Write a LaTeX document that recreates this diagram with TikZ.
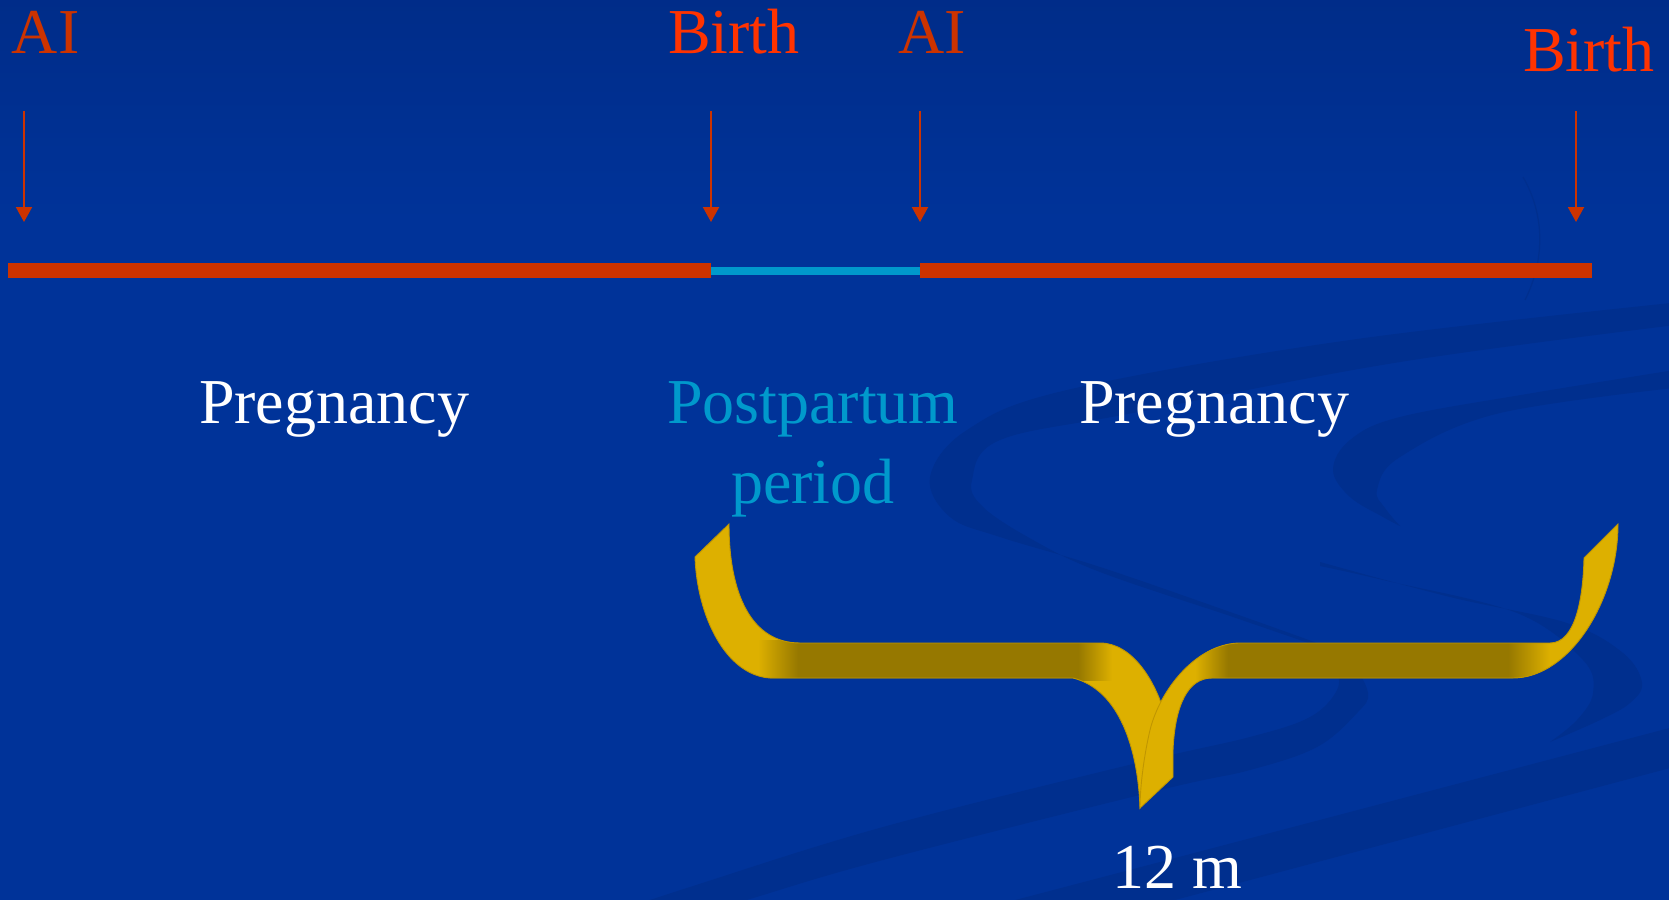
\documentclass[tikz,border=0pt]{standalone}
\usepackage{fontspec}
\setmainfont{Liberation Serif}
\usetikzlibrary{arrows.meta}
\definecolor{bgblue}{HTML}{003399}
\definecolor{bgtop}{HTML}{002C88}
\definecolor{swirl}{HTML}{002F8E}
\definecolor{tlred}{HTML}{CC3300}
\definecolor{birthred}{HTML}{FF3300}
\definecolor{ppcyan}{HTML}{0099CC}
\definecolor{gold}{HTML}{DDB000}
\definecolor{darkgold}{HTML}{967800}
\definecolor{goldedge}{HTML}{C09600}
\tikzset{
  lbl/.style={anchor=base west, inner sep=0pt, outer sep=0pt, font=\fontsize{64}{77}\selectfont},
  marker/.style={draw=tlred, line width=2pt, -{Triangle[length=15pt,width=16pt]}},
  swirlfill/.style={fill=swirl},
  braceedge/.style={draw=goldedge, line width=0.9pt}
}
\def\LBpath{(729,524) .. controls (729,595) and (752,643) .. (800,643) -- (1100,643) .. controls (1132,643) and (1155,680) .. (1165,715) -- (1150,790) -- (1140,808) .. controls (1138,750) and (1120,690) .. (1073,678) -- (770,678) .. controls (725,675) and (697,615) .. (695,557) -- cycle}
\def\RBpath{(1140,808) -- (1173,777) -- (1173,750) .. controls (1175,705) and (1188,678) .. (1212,678) -- (1513,678) .. controls (1570,678) and (1618,600) .. (1618,524) -- (1584,558) .. controls (1583,600) and (1575,643) .. (1550,643) -- (1238,643) .. controls (1195,645) and (1160,690) .. (1150,730) .. controls (1143,760) and (1140,790) .. (1140,808) -- cycle}
\begin{document}
\begin{tikzpicture}[x=1pt,y=-1pt]
\useasboundingbox (0,0) rectangle (1669,899);
% background
\fill[bgblue] (-10,-10) rectangle (1680,910);
\shade[top color=bgtop, bottom color=bgblue] (-10,-10) rectangle (1680,220);
% background swirls
\begin{scope}
\clip (-10,-10) rectangle (1680,910);
\fill[swirlfill] plot[smooth, tension=0.6] coordinates {(1700,300) (1350,340) (1067,390) (967,430) (930,477) (950,517) (1000,537) (1100,567) (1233,613) (1317,643)}
  -- plot[smooth, tension=0.6] coordinates {(1317,646) (1233,617) (1100,572) (1033,540) (983,507) (972,480) (1000,440) (1133,413) (1400,362) (1700,322)} -- cycle;
\fill[swirlfill] plot[smooth, tension=0.6] coordinates {(1317,643) (1350,662) (1368,693) (1357,713) (1317,747) (1250,770) (1160,790) (883,860) (750,899) (650,930)}
  -- plot[smooth, tension=0.6] coordinates {(560,930) (690,887) (883,827) (1137,763) (1250,737) (1310,717) (1337,690) (1335,668) (1317,650)} -- cycle;
\fill[swirlfill] plot[smooth, tension=0.6] coordinates {(1700,366) (1533,393) (1400,417) (1350,440) (1333,470) (1350,497) (1383,517) (1400,526)}
  -- plot[smooth, tension=0.6] coordinates {(1400,526) (1385,508) (1377,490) (1400,457) (1500,413) (1700,385)} -- cycle;
\fill[swirlfill] plot[smooth, tension=0.6] coordinates {(1320,562) (1450,597) (1567,623) (1623,653) (1642,683) (1630,703) (1600,720) (1550,742)}
  -- plot[smooth, tension=0.6] coordinates {(1550,742) (1577,720) (1593,693) (1583,660) (1517,613) (1383,580) (1320,566)} -- cycle;
\fill[swirlfill] (1700,720) -- (985,908) -- (1145,908) -- (1700,760) -- cycle;
\draw[swirl, line width=1.2pt] (1523,177) .. controls (1545,215) and (1545,260) .. (1525,300);
\end{scope}
% top labels
\node[lbl, text=tlred] (ai1) at (12,54) {AI};
\node[lbl, text=birthred] (birth1) at (668,54) {Birth};
\node[lbl, text=tlred] (ai2) at (898,54) {AI};
\node[lbl, text=birthred] (birth2) at (1523,71) {Birth};
% markers
\coordinate (m1s) at (24,111);   \coordinate (m1e) at (24,222);
\coordinate (m2s) at (711,111);  \coordinate (m2e) at (711,222);
\coordinate (m3s) at (920,111);  \coordinate (m3e) at (920,222);
\coordinate (m4s) at (1576,111); \coordinate (m4e) at (1576,222);
\draw[marker] (m1s) -- (m1e);
\draw[marker] (m2s) -- (m2e);
\draw[marker] (m3s) -- (m3e);
\draw[marker] (m4s) -- (m4e);
% timeline
\fill[tlred] (8,263) rectangle (711,278);
\fill[ppcyan] (711,267) rectangle (920,275);
\fill[tlred] (920,263) rectangle (1592,278);
% period labels
\node[lbl, text=white] (preg1) at (199,423) {Pregnancy};
\node[lbl, text=ppcyan] (pp1) at (667,423) {Postpartum};
\node[lbl, text=ppcyan] (pp2) at (731,503) {period};
\node[lbl, text=white] (preg2) at (1079,423) {Pregnancy};
% brace (left half)
\fill[gold] \LBpath;
\begin{scope}
\clip \LBpath;
\shade[left color=gold, right color=darkgold] (758,640) rectangle (798,680);
\fill[darkgold] (797.5,640) rectangle (1078,680);
\shade[left color=darkgold, right color=gold] (1078,640) rectangle (1112,680);
\end{scope}
\draw[braceedge] \LBpath;
% brace (right half)
\fill[gold] \RBpath;
\begin{scope}
\clip \RBpath;
\shade[left color=gold, right color=darkgold] (1195,640) rectangle (1228,680);
\fill[darkgold] (1227.5,640) rectangle (1508,680);
\shade[left color=darkgold, right color=gold] (1508,640) rectangle (1550,680);
\end{scope}
\draw[braceedge] \RBpath;
% duration label
\node[lbl, text=white] (dur) at (1112,888) {12 m};
\end{tikzpicture}
\end{document}
